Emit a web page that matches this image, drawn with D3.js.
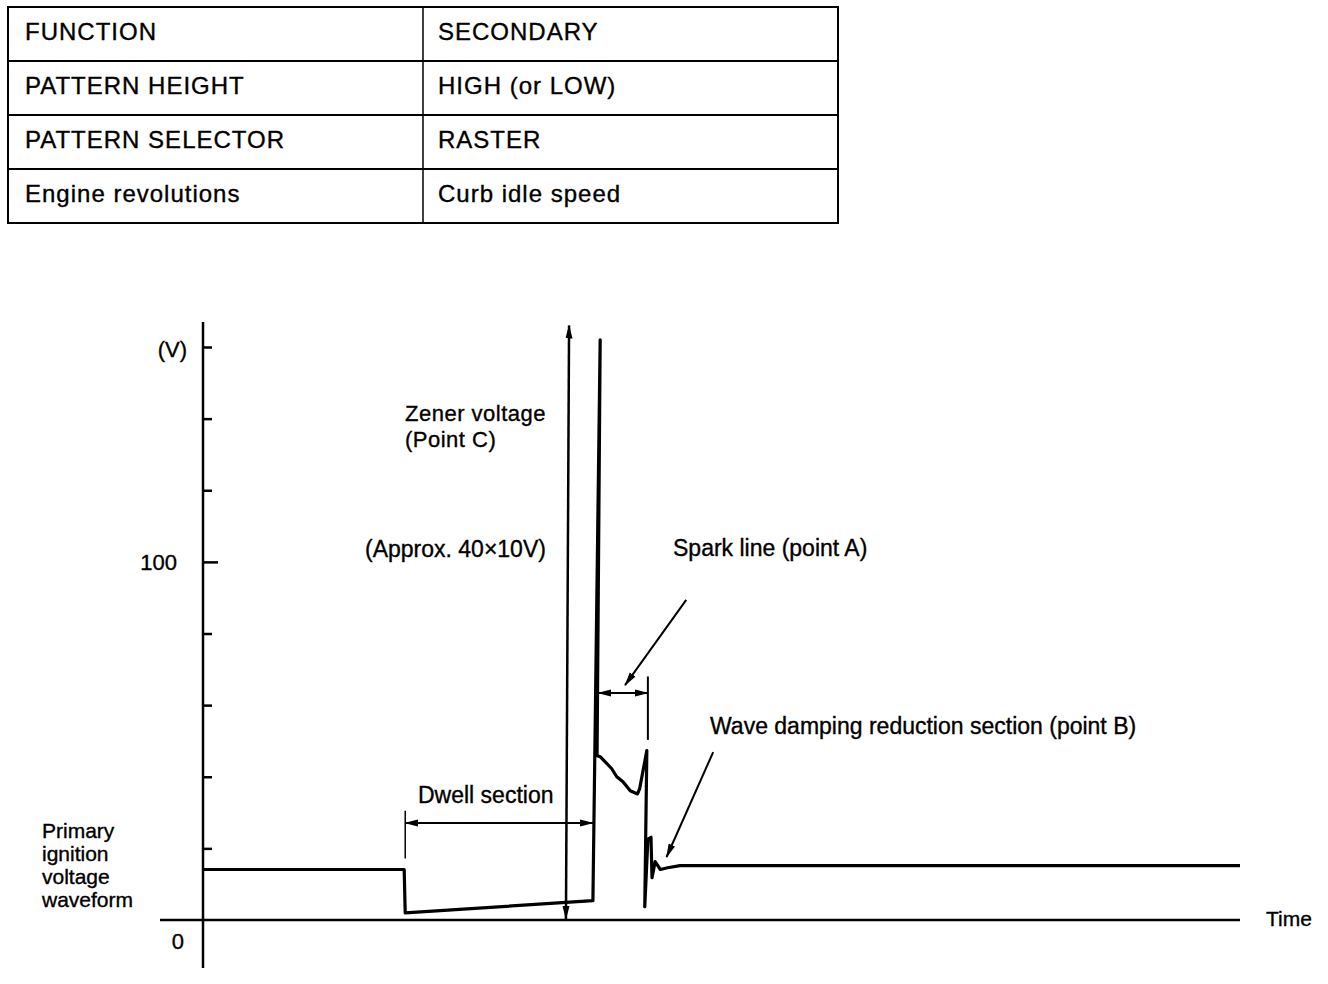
<!DOCTYPE html>
<html>
<head>
<meta charset="utf-8">
<script src="https://cdn.jsdelivr.net/npm/d3@7"></script>
<style>
  html, body { margin: 0; padding: 0; background: #fff; }
  svg text { font-family: "Liberation Sans", Arial, sans-serif; fill: #000; stroke: #000; stroke-width: 0.35px; }
</style>
</head>
<body>
<div id="chart"></div>
<script>
// table rows (left col / right col)
const tableLeft = ["FUNCTION", "PATTERN HEIGHT", "PATTERN SELECTOR", "Engine revolutions"];
const tableRight = ["SECONDARY", "HIGH (or LOW)", "RASTER", "Curb idle speed"];

// primary ignition voltage waveform : time (0-100), volts
const waveTime = [0, 19.4, 19.5, 37.6, 38.3, 38.0, 38.3, 39.4, 39.9, 40.5, 41.2, 41.9, 42.1, 42.8, 42.6, 42.9, 43.2, 43.3, 43.6, 44.1, 44.8, 46.0, 100];
const waveVolt = [14.1, 14.1, 2.0, 5.4, 162, 45.9, 45.6, 42.3, 40.0, 38.6, 36.1, 35.2, 36.6, 47.3, 3.7, 22.5, 23.1, 11.8, 16.3, 14.1, 14.6, 15.2, 15.2];

// y ticks (V)
const yTicks = [20, 40, 60, 80, 100, 120, 140, 160];
const yLabelTicks = [100];

(function () {
  let w = 1328,
    h = 984;

  let svg = d3.select("#chart").append("svg").attr("width", w).attr("height", h);
  svg.append("rect").attr("width", w).attr("height", h).attr("fill", "#fff");

  // arrow marker
  let defs = svg.append("defs");
  defs.append("marker")
    .attr("id", "arr")
    .attr("viewBox", "0 -4 14 8")
    .attr("refX", 13)
    .attr("refY", 0)
    .attr("markerWidth", 14)
    .attr("markerHeight", 8)
    .attr("markerUnits", "userSpaceOnUse")
    .attr("orient", "auto-start-reverse")
    .append("path")
    .attr("d", "M0,-3.5L14,0L0,3.5Z")
    .attr("fill", "#000");

  // ---------- table ----------
  let tX0 = 8, tX1 = 838, tXm = 423, tY0 = 7, rowH = 54;
  let tbl = svg.append("g");
  tbl.append("rect")
    .attr("x", tX0).attr("y", tY0)
    .attr("width", tX1 - tX0).attr("height", rowH * tableLeft.length)
    .attr("fill", "none").attr("stroke", "#000").attr("stroke-width", 2);
  tbl.append("line")
    .attr("x1", tXm).attr("x2", tXm).attr("y1", tY0).attr("y2", tY0 + rowH * tableLeft.length)
    .attr("stroke", "#000").attr("stroke-width", 1.5);
  tbl.selectAll(".rowline")
    .data(tableLeft.slice(1))
    .enter()
    .append("line")
    .attr("x1", tX0).attr("x2", tX1)
    .attr("y1", function (d, i) { return tY0 + rowH * (i + 1); })
    .attr("y2", function (d, i) { return tY0 + rowH * (i + 1); })
    .attr("stroke", "#000").attr("stroke-width", 2);
  tbl.selectAll(".lt")
    .data(tableLeft)
    .enter()
    .append("text")
    .attr("x", 25)
    .attr("y", function (d, i) { return tY0 + rowH * i + 33; })
    .style("font-size", "24px")
    .style("letter-spacing", "1px")
    .text(function (d) { return d; });
  tbl.selectAll(".rt")
    .data(tableRight)
    .enter()
    .append("text")
    .attr("x", 438)
    .attr("y", function (d, i) { return tY0 + rowH * i + 33; })
    .style("font-size", "24px")
    .style("letter-spacing", "1px")
    .text(function (d) { return d; });

  // ---------- chart ----------
  let x = d3.scaleLinear().domain([0, 100]).range([203, 1240]);
  let y = d3.scaleLinear().domain([0, 160]).range([920, 347]);

  let g = svg.append("g");

  // axes
  g.append("line")
    .attr("x1", x(0)).attr("x2", x(0)).attr("y1", 322).attr("y2", 968)
    .attr("stroke", "#000").attr("stroke-width", 2.5);
  g.append("line")
    .attr("x1", 160).attr("x2", x(100)).attr("y1", y(0)).attr("y2", y(0))
    .attr("stroke", "#000").attr("stroke-width", 2.5);

  let yAxis = g.append("g")
    .attr("transform", "translate(" + x(0) + ",0)")
    .call(d3.axisRight(y).tickValues(yTicks).tickSize(9).tickFormat(""));
  yAxis.select(".domain").remove();
  yAxis.selectAll(".tick line")
    .attr("stroke-width", 2.5)
    .attr("x2", function (d) { return yLabelTicks.indexOf(d) >= 0 ? 15 : 9; });

  g.selectAll(".ylab")
    .data(yLabelTicks)
    .enter()
    .append("text")
    .attr("x", x(0) - 26)
    .attr("y", function (d) { return y(d) + 8; })
    .attr("text-anchor", "end")
    .style("font-size", "22px")
    .text(function (d) { return d; });
  g.append("text").attr("x", x(0) - 19).attr("y", y(0) + 29).attr("text-anchor", "end").style("font-size", "22px").text("0");
  g.append("text").attr("x", x(0) - 16).attr("y", y(160) + 10).attr("text-anchor", "end").style("font-size", "22px").text("(V)");
  g.append("text").attr("x", 1266).attr("y", 926).style("font-size", "21px").text("Time");

  // waveform
  let line = d3.line()
    .x(function (d) { return x(d[0]); })
    .y(function (d) { return y(d[1]); });
  let pts = waveTime.map(function (t, i) { return [t, waveVolt[i]]; });
  g.append("path")
    .attr("d", line(pts))
    .attr("fill", "none")
    .attr("stroke", "#000")
    .attr("stroke-width", 3.2)
    .attr("stroke-linejoin", "round");

  // annotation lines
  function seg(t1, v1, t2, v2, head1, head2, sw) {
    let l = g.append("line")
      .attr("x1", x(t1)).attr("y1", y(v1))
      .attr("x2", x(t2)).attr("y2", y(v2))
      .attr("stroke", "#000")
      .attr("stroke-width", sw || 2);
    if (head1) l.attr("marker-start", "url(#arr)");
    if (head2) l.attr("marker-end", "url(#arr)");
  }

  // zener voltage arrow
  seg(35.0, 0.3, 35.3, 166, true, true, 2.5);
  // dwell section
  seg(19.5, 27.1, 37.6, 27.1, true, true);
  seg(19.5, 30.5, 19.5, 17.2, false, false, 1.5);
  // spark line
  seg(38.1, 63.4, 42.9, 63.4, true, true);
  seg(42.9, 68.0, 42.9, 50.3, false, false);
  seg(46.6, 89.4, 40.7, 65.6, false, true);
  // wave damping leader
  seg(49.2, 46.9, 44.7, 17.6, false, true);

  // labels
  let labels = [
    { t: "Zener voltage", x: 405, y: 421, s: 22 },
    { t: "(Point C)", x: 405, y: 447, s: 22 },
    { t: "(Approx. 40\u00d710V)", x: 365, y: 557, s: 23 },
    { t: "Spark line (point A)", x: 673, y: 556, s: 23 },
    { t: "Wave damping reduction section (point B)", x: 710, y: 734, s: 23 },
    { t: "Dwell section", x: 418, y: 803, s: 23 },
  ];
  g.selectAll(".lbl")
    .data(labels)
    .enter()
    .append("text")
    .attr("x", function (d) { return d.x; })
    .attr("y", function (d) { return d.y; })
    .style("font-size", function (d) { return d.s + "px"; })
    .style("letter-spacing", function (d) { return d.s < 23 ? "0.5px" : "0px"; })
    .text(function (d) { return d.t; });

  let side = ["Primary", "ignition", "voltage", "waveform"];
  g.selectAll(".side")
    .data(side)
    .enter()
    .append("text")
    .attr("x", 42)
    .attr("y", function (d, i) { return 838 + i * 23; })
    .style("font-size", "21px")
    .text(function (d) { return d; });
})();
</script>
</body>
</html>
